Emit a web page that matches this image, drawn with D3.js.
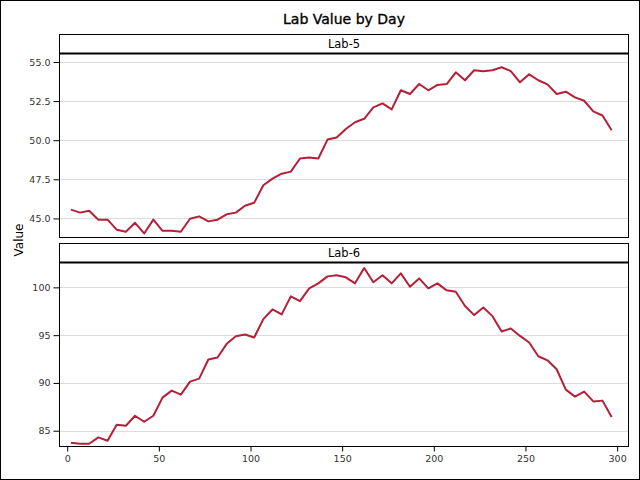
<!DOCTYPE html>
<html><head><meta charset="utf-8">
<script src="https://cdn.jsdelivr.net/npm/d3@7"></script>
<style>body{margin:0;background:#fff}svg{display:block}</style>
</head><body>
<script>
const days = [2,7,12,17,22,27,32,37,42,47,52,57,62,67,72,77,82,87,92,97,102,107,112,117,122,127,132,137,142,147,152,157,162,167,172,177,182,187,192,197,202,207,212,217,222,227,232,237,242,247,252,257,262,267,272,277,282,287,292,297];
const lab5 = [45.56,45.37,45.49,44.92,44.92,44.28,44.15,44.72,44.04,44.92,44.21,44.21,44.15,44.98,45.13,44.81,44.92,45.26,45.37,45.81,46.0,47.12,47.54,47.86,47.99,48.83,48.89,48.83,50.04,50.17,50.72,51.15,51.37,52.1,52.35,51.97,53.19,52.95,53.59,53.19,53.53,53.59,54.34,53.83,54.47,54.40,54.47,54.66,54.42,53.70,54.21,53.83,53.57,52.95,53.10,52.74,52.52,51.84,51.58,50.64];
const lab6 = [83.74,83.64,83.64,84.30,83.95,85.63,85.52,86.57,85.94,86.57,88.46,89.20,88.78,90.14,90.45,92.45,92.66,94.09,94.89,95.07,94.76,96.68,97.69,97.17,99.06,98.56,99.90,100.42,101.15,101.26,101.05,100.42,102.02,100.53,101.26,100.42,101.47,100.07,100.94,99.90,100.42,99.69,99.55,98.05,97.10,97.90,96.99,95.38,95.70,94.92,94.23,92.79,92.37,91.43,89.30,88.57,89.09,88.07,88.15,86.43];
const panelNames = ["Lab-5","Lab-6"];
const xTicks = [0,50,100,150,200,250,300];
const yTicks5 = [45.0,47.5,50.0,52.5,55.0];
const yTicks6 = [85,90,95,100];
const yDomain5 = [43.78,55.51];
const yDomain6 = [83.35,102.55];
const xDomain = [-4.2,306.2];
const title = "Lab Value by Day";
const yLabel = "Value";

const W=640,H=480;
const font = "DejaVu Sans, Verdana, sans-serif";
const svg = d3.select("body").append("svg").attr("width",W).attr("height",H);
svg.append("rect").attr("x",0.5).attr("y",0.5).attr("width",W-1).attr("height",H-1)
  .attr("fill","#fff").attr("stroke","#000");

const L=59.5,R=628.5;
const x = d3.scaleLinear().domain(xDomain).range([L,R]);

svg.append("text").attr("x",(L+R)/2).attr("y",24.3).attr("text-anchor","middle")
  .attr("font-family",font).attr("font-size",14).attr("fill","#000")
  .attr("stroke","#000").attr("stroke-width",0.35).text(title);

const panels = [
  {name:panelNames[0], vals:lab5, ticks:yTicks5, dom:yDomain5, hTop:34.5, pTop:54, pBot:237.5, fmt:d3.format(".1f")},
  {name:panelNames[1], vals:lab6, ticks:yTicks6, dom:yDomain6, hTop:243.5, pTop:263, pBot:446.5, fmt:d3.format("d")}
];
const color = "#b51f38";

panels.forEach(p=>{
  const y = d3.scaleLinear().domain(p.dom).range([p.pBot,p.pTop]);
  const g = svg.append("g");
  g.selectAll("line.grid").data(p.ticks).join("line")
    .attr("x1",L).attr("x2",R).attr("y1",d=>Math.round(y(d))+0.5).attr("y2",d=>Math.round(y(d))+0.5)
    .attr("stroke","#dcdcdc").attr("stroke-width",1);
  const data = days.map((d,i)=>[d,p.vals[i]]);
  g.append("path").datum(data)
    .attr("d",d3.line().x(d=>x(d[0])).y(d=>y(d[1])))
    .attr("fill","none").attr("stroke",color).attr("stroke-width",2).attr("stroke-linejoin","round");
  g.append("rect").attr("x",L).attr("y",p.hTop).attr("width",R-L).attr("height",p.pBot-p.hTop)
    .attr("fill","none").attr("stroke","#000");
  g.append("line").attr("x1",L).attr("x2",R).attr("y1",p.pTop-0.5).attr("y2",p.pTop-0.5)
    .attr("stroke","#000").attr("stroke-width",2);
  g.append("text").attr("x",(L+R)/2).attr("y",p.hTop+13.3).attr("text-anchor","middle")
    .attr("font-family",font).attr("font-size",11.5).attr("fill","#000").text(p.name);
  const ax = g.append("g").attr("transform",`translate(${L},0)`)
    .call(d3.axisLeft(y).tickValues(p.ticks).tickFormat(p.fmt).tickSize(6).tickPadding(3));
  ax.select(".domain").remove();
  ax.selectAll("text").attr("font-family",font).attr("font-size",9.5).attr("fill","#333");
  ax.selectAll("line").attr("stroke","#000");
});

const xa = svg.append("g").attr("transform",`translate(0,${446.5})`)
  .call(d3.axisBottom(x).tickValues(xTicks).tickFormat(d3.format("d")).tickSize(5).tickPadding(4));
xa.select(".domain").remove();
xa.selectAll("text").attr("font-family",font).attr("font-size",9.5).attr("fill","#333");
xa.selectAll("line").attr("stroke","#000");

svg.append("text").attr("transform",`translate(22.5,240) rotate(-90)`).attr("text-anchor","middle")
  .attr("font-family",font).attr("font-size",12).attr("fill","#000").text(yLabel);
</script>
</body></html>
